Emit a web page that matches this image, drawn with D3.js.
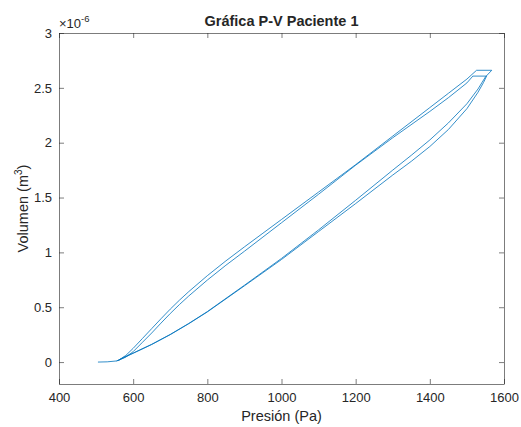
<!DOCTYPE html>
<html>
<head>
<meta charset="utf-8">
<script src="https://cdn.jsdelivr.net/npm/d3@7"></script>
<style>
  body { margin: 0; background: #fff; }
  svg text { font-family: "Liberation Sans", Arial, Helvetica, sans-serif; fill: #262626; }
</style>
</head>
<body>
<div id="chart"></div>
<script>
// presion (Pa) y volumen (x1e-6 m^3), ciclo 1: subida + meseta + bajada
const presion1 = [505, 530, 555, 560, 580, 600, 625, 650, 675, 700, 725, 750, 800, 850, 900, 950, 1000, 1100, 1200, 1300, 1400, 1450, 1500, 1526,
    1567, 1550, 1530, 1500, 1450, 1400, 1350, 1300, 1200, 1100, 1000, 900, 800, 750, 700, 650, 600, 575, 560];
const volumen1 = [0, 0.002, 0.01, 0.015, 0.06, 0.125, 0.215, 0.305, 0.395, 0.4825, 0.565, 0.6425, 0.7875, 0.9225, 1.05, 1.175, 1.30, 1.55, 1.80, 2.06, 2.32, 2.45, 2.58, 2.66,
    2.66, 2.6, 2.49, 2.355, 2.18, 2.025, 1.885, 1.75, 1.475, 1.205, 0.945, 0.70, 0.46, 0.352, 0.252, 0.162, 0.082, 0.045, 0.015];
// ciclo 2
const presion2 = [580, 600, 625, 650, 675, 700, 725, 750, 800, 850, 900, 950, 1000, 1100, 1200, 1300, 1400, 1450, 1500, 1516,
    1553, 1545, 1530, 1500, 1450, 1400, 1350, 1300, 1200, 1100, 1000, 900, 800, 750, 700, 650, 600, 575, 555];
const volumen2 = [0.045, 0.095, 0.18, 0.265, 0.355, 0.4425, 0.525, 0.6025, 0.7475, 0.8825, 1.01, 1.14, 1.27, 1.53, 1.795, 2.045, 2.285, 2.41, 2.545, 2.607,
    2.607, 2.55, 2.46, 2.31, 2.12, 1.965, 1.83, 1.705, 1.445, 1.19, 0.935, 0.695, 0.457, 0.35, 0.25, 0.16, 0.08, 0.04, 0.01];

const xTicks = [400, 600, 800, 1000, 1200, 1400, 1600];
const yTicks = [0, 0.5, 1, 1.5, 2, 2.5, 3];

const W = 521, H = 427;
const margin = {top: 33, right: 17, bottom: 43, left: 59};
const innerWidth = W - margin.left - margin.right,
    innerHeight = H - margin.top - margin.bottom;

const svg = d3.select('#chart').append('svg')
    .attr('width', W)
    .attr('height', H);

const g = svg.append('g')
    .attr('transform', `translate(${margin.left},${margin.top})`);

const xScale = d3.scaleLinear().domain([400, 1600]).range([0, innerWidth]);
const yScale = d3.scaleLinear().domain([-0.2, 3]).range([innerHeight, 0]);

const axisColor = '#262626';

//ejes con ticks hacia dentro
g.append('g')
    .attr('transform', `translate(0,${innerHeight})`)
    .call(d3.axisBottom(xScale).tickValues(xTicks).tickSize(-5).tickPadding(9).tickFormat(d3.format('d')));
g.append('g')
    .call(d3.axisTop(xScale).tickValues(xTicks).tickSize(-5).tickFormat(''));
g.append('g')
    .call(d3.axisLeft(yScale).tickValues(yTicks).tickSize(-5).tickPadding(7).tickFormat(d => d3.format('')(d)));
g.append('g')
    .attr('transform', `translate(${innerWidth},0)`)
    .call(d3.axisRight(yScale).tickValues(yTicks).tickSize(-5).tickFormat(''));

g.selectAll('.domain').remove();
g.selectAll('.tick line').attr('stroke', axisColor).attr('stroke-width', 0.6);
g.selectAll('.tick text').style('font-size', '13px').attr('fill', axisColor);

g.append('rect')
    .attr('x', 0.5).attr('y', 0.5)
    .attr('width', innerWidth).attr('height', innerHeight)
    .attr('fill', 'none')
    .attr('stroke', axisColor)
    .attr('stroke-width', 0.6);

//curva P-V
const line = d3.line()
    .x(d => xScale(d[0]))
    .y(d => yScale(d[1]));

const puntos = presion1.map((p, i) => [p, volumen1[i]])
    .concat(presion2.map((p, i) => [p, volumen2[i]]));

g.append('path')
    .datum(puntos)
    .attr('fill', 'none')
    .attr('stroke', '#0072BD')
    .attr('stroke-width', 0.8)
    .attr('stroke-linejoin', 'round')
    .attr('d', line);

//textos
svg.append('text')
    .attr('x', margin.left + innerWidth / 2)
    .attr('y', 26)
    .attr('text-anchor', 'middle')
    .style('font-size', '14.5px')
    .style('font-weight', 'bold')
    .attr('fill', '#000')
    .text('Gráfica P-V Paciente 1');

const expo = svg.append('text')
    .attr('x', margin.left)
    .attr('y', 28)
    .style('font-size', '13px');
expo.append('tspan').text('×10');
expo.append('tspan').attr('dy', -6).style('font-size', '9.5px').text('-6');

svg.append('text')
    .attr('x', margin.left + innerWidth / 2)
    .attr('y', 421)
    .attr('text-anchor', 'middle')
    .style('font-size', '14.5px')
    .text('Presión (Pa)');

const ylab = svg.append('text')
    .attr('transform', `translate(28,${margin.top + innerHeight / 2}) rotate(-90)`)
    .attr('text-anchor', 'middle')
    .style('font-size', '14.5px');
ylab.append('tspan').text('Volumen (m');
ylab.append('tspan').attr('dy', -6).style('font-size', '10px').text('3');
ylab.append('tspan').attr('dy', 6).text(')');
</script>
</body>
</html>
